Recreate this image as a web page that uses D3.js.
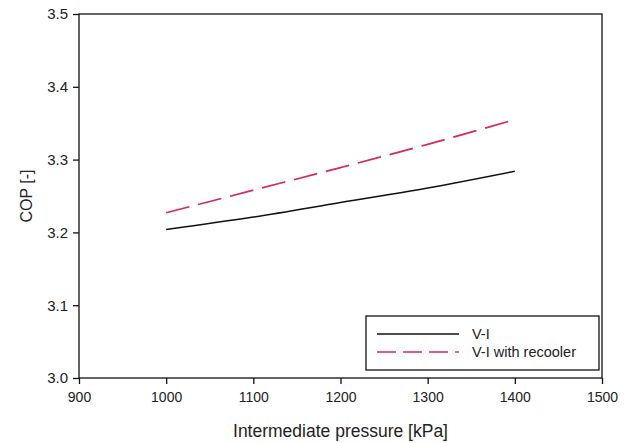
<!DOCTYPE html>
<html>
<head>
<meta charset="utf-8">
<script src="https://cdn.jsdelivr.net/npm/d3@7"></script>
<style>
html,body{margin:0;padding:0;background:#fff;}
svg{display:block;font-family:"Liberation Sans",Arial,sans-serif;}
</style>
</head>
<body>
<svg id="chart" width="632" height="443"></svg>
<script>
const pressure = [1000, 1100, 1200, 1300, 1400];
const copVI = [3.204, 3.221, 3.241, 3.261, 3.284];
const copVIRecooler = [3.227, 3.258, 3.289, 3.321, 3.355];
const xTicks = [900, 1000, 1100, 1200, 1300, 1400, 1500];
const yTicks = [3.0, 3.1, 3.2, 3.3, 3.4, 3.5];
const seriesNames = ["V-I", "V-I with recooler"];
const xTitle = "Intermediate pressure [kPa]";
const yTitle = "COP [-]";

const svg = d3.select("#chart");
const m = {left: 79, right: 602, top: 14, bottom: 378};
const x = d3.scaleLinear().domain([900, 1500]).range([m.left, m.right]);
const y = d3.scaleLinear().domain([3.0, 3.5]).range([m.bottom, m.top]);

// frame
svg.append("rect").attr("x", m.left).attr("y", m.top)
  .attr("width", m.right - m.left).attr("height", m.bottom - m.top)
  .attr("fill", "none").attr("stroke", "#111").attr("stroke-width", 1.3);

const xAxis = svg.append("g").attr("transform", `translate(0,${m.bottom})`)
  .call(d3.axisBottom(x).tickValues(xTicks).tickSize(6).tickPadding(8).tickFormat(d3.format("d")));
const yAxis = svg.append("g").attr("transform", `translate(${m.left},0)`)
  .call(d3.axisLeft(y).tickValues(yTicks).tickSize(6).tickPadding(5).tickFormat(d3.format(".1f")));
[xAxis, yAxis].forEach(g => {
  g.select(".domain").remove();
  g.selectAll("line").attr("stroke", "#111").attr("stroke-width", 1.3);
  g.selectAll("text").attr("fill", "#222")
    .style("font-family", '"Liberation Sans",Arial,sans-serif');
});
xAxis.selectAll("text").style("font-size", "14px");
yAxis.selectAll("text").style("font-size", "15px");

const line = d3.line().x(d => x(d[0])).y(d => y(d[1])).curve(d3.curveMonotoneX);
svg.append("path").datum(pressure.map((p, i) => [p, copVI[i]]))
  .attr("d", line).attr("fill", "none").attr("stroke", "#111").attr("stroke-width", 1.5);
svg.append("path").datum(pressure.map((p, i) => [p, copVIRecooler[i]]))
  .attr("d", line).attr("fill", "none").attr("stroke", "#d9285a").attr("stroke-width", 1.7)
  .attr("stroke-dasharray", "24,9");

// axis titles
svg.append("text").attr("x", (m.left + m.right) / 2).attr("y", 437)
  .attr("text-anchor", "middle").style("font-size", "17.5px").attr("fill", "#222").text(xTitle);
svg.append("text").attr("transform", `translate(32,${(m.top + m.bottom) / 2}) rotate(-90)`)
  .attr("text-anchor", "middle").style("font-size", "16px").attr("fill", "#222").text(yTitle);

// legend
const lg = svg.append("g");
lg.append("rect").attr("x", 366).attr("y", 316).attr("width", 233).attr("height", 54)
  .attr("fill", "#fff").attr("stroke", "#111").attr("stroke-width", 1.3);
const legendStyles = [{stroke: "#111", dash: null}, {stroke: "#d9285a", dash: "19,7"}];
seriesNames.forEach((name, i) => {
  const yy = 334 + i * 18;
  lg.append("line").attr("x1", 377).attr("x2", 459).attr("y1", yy).attr("y2", yy)
    .attr("stroke", legendStyles[i].stroke).attr("stroke-width", 1.5)
    .attr("stroke-dasharray", legendStyles[i].dash);
  lg.append("text").attr("x", 472).attr("y", yy + 5).style("font-size", "14.5px")
    .attr("fill", "#222").text(name);
});
</script>
</body>
</html>
